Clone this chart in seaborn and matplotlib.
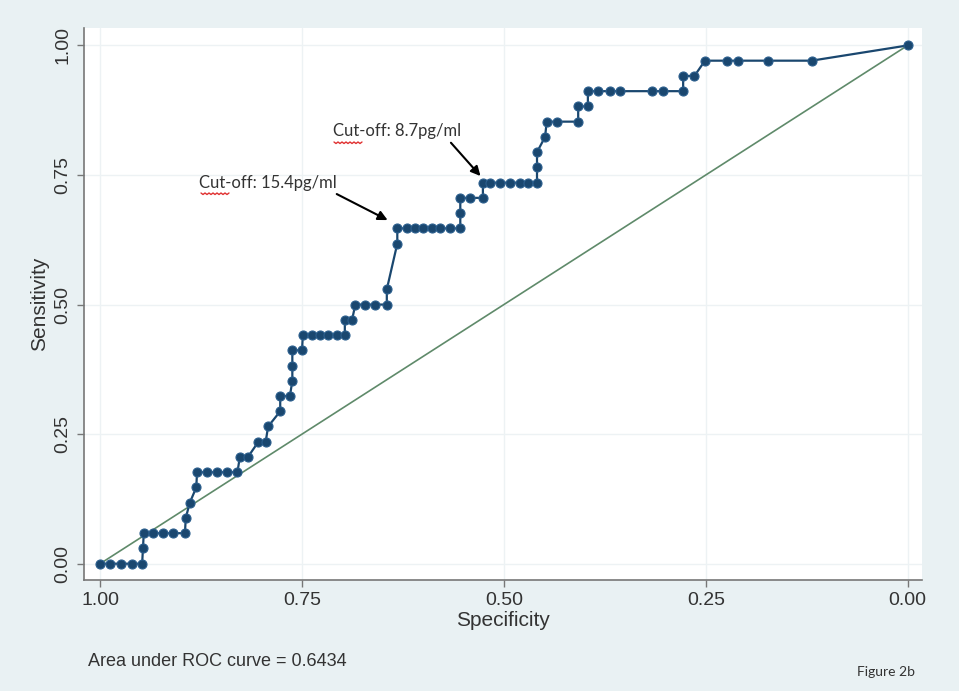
import numpy as np
import pandas as pd
import matplotlib
matplotlib.use("Agg")
import matplotlib.pyplot as plt
import seaborn as sns
from matplotlib.lines import Line2D

# --- ROC points (specificity, sensitivity as k/34) ---
specificity = [1.000, 0.988, 0.974, 0.960, 0.948,
               0.947,
               0.946, 0.934, 0.922, 0.910, 0.895,
               0.894, 0.889, 0.881,
               0.880, 0.868, 0.855, 0.843, 0.830,
               0.827, 0.817,
               0.804, 0.795,
               0.792, 0.777,
               0.777, 0.765,
               0.762, 0.762,
               0.762, 0.750,
               0.749, 0.738, 0.728, 0.718, 0.707, 0.697,
               0.697, 0.688,
               0.684, 0.672, 0.660, 0.645,
               0.645, 0.632,
               0.632, 0.620, 0.610, 0.600, 0.589, 0.579, 0.567, 0.554,
               0.554,
               0.554, 0.542, 0.526,
               0.526, 0.517, 0.505, 0.493, 0.480, 0.470, 0.459,
               0.459, 0.459, 0.449,
               0.447, 0.434, 0.408,
               0.408, 0.396,
               0.396, 0.384, 0.369, 0.356, 0.316, 0.303, 0.278,
               0.278, 0.264,
               0.251, 0.224, 0.210, 0.173, 0.119,
               0.000]
hits = [0, 0, 0, 0, 0,
        1,
        2, 2, 2, 2, 2,
        3, 4, 5,
        6, 6, 6, 6, 6,
        7, 7,
        8, 8,
        9, 10,
        11, 11,
        12, 13,
        14, 14,
        15, 15, 15, 15, 15, 15,
        16, 16,
        17, 17, 17, 17,
        18, 21,
        22, 22, 22, 22, 22, 22, 22, 22,
        23,
        24, 24, 24,
        25, 25, 25, 25, 25, 25, 25,
        26, 27, 28,
        29, 29, 29,
        30, 30,
        31, 31, 31, 31, 31, 31, 31,
        32, 32,
        33, 33, 33, 33, 33,
        34]
n_positive = 34
sensitivity = [h / n_positive for h in hits]

diag_spec = [1.0, 0.0]
diag_sens = [0.0, 1.0]

ticks = [0.00, 0.25, 0.50, 0.75, 1.00]
auc_text = "Area under ROC curve = 0.6434"

df = pd.DataFrame({"spec": specificity, "sens": sensitivity})

# --- style (Stata s2color look) ---
sns.set_style("white")
plt.rcParams['font.family'] = ['Liberation Sans', 'DejaVu Sans']
bg = "#e9f1f3"
navy = "#1a476f"

fig = plt.figure(figsize=(9.59, 6.91), dpi=100, facecolor=bg)
ax = fig.add_axes([0.0876, 0.161, 0.874, 0.798])
ax.set_facecolor("white")

for t in ticks:
    ax.axhline(t, color="#edf2f4", lw=1, zorder=0)
    ax.axvline(t, color="#edf2f4", lw=1, zorder=0)

sns.lineplot(x=diag_spec, y=diag_sens, ax=ax, color="#5f8a6a", lw=1.2, zorder=2)
sns.lineplot(data=df, x="spec", y="sens", sort=False, estimator=None, ax=ax,
             color=navy, lw=1.6, marker="o", markersize=6.5,
             markerfacecolor=navy, markeredgecolor="#2c5f8e", markeredgewidth=0.8,
             zorder=3)

ax.set_xlim(1.02, -0.018)
ax.set_ylim(-0.031, 1.033)
ax.set_xticks(ticks)
ax.set_yticks(ticks)
ax.set_xticklabels([f"{t:.2f}" for t in ticks], fontsize=14, color="#333333")
ax.set_yticklabels([f"{t:.2f}" for t in ticks], fontsize=14, color="#333333",
                   rotation=90, va="center")
ax.tick_params(axis="both", direction="out", length=5, width=1, color="#777777",
               bottom=True, left=True, pad=4)
ax.set_xlabel("Specificity", fontsize=15, color="#333333", labelpad=1)
ax.set_ylabel("Sensitivity", fontsize=15, color="#333333", labelpad=4)

for s in ["top", "right"]:
    ax.spines[s].set_visible(False)
for s in ["left", "bottom"]:
    ax.spines[s].set_color("#777777")
    ax.spines[s].set_linewidth(1.2)

# cut-off annotations
ax.annotate("Cut-off: 15.4pg/ml", xy=(0.644, 0.663), xytext=(0.877, 0.735),
            fontsize=12, family=["Lato", "DejaVu Sans"], color="#333333",
            ha="left", va="center",
            arrowprops=dict(arrowstyle="-|>", color="black", lw=1.5,
                            shrinkA=0, shrinkB=0, mutation_scale=14,
                            relpos=(0.95, 0.0)))
ax.annotate("Cut-off: 8.7pg/ml", xy=(0.529, 0.748), xytext=(0.712, 0.834),
            fontsize=12, family=["Lato", "DejaVu Sans"], color="#333333",
            ha="left", va="center",
            arrowprops=dict(arrowstyle="-|>", color="black", lw=1.5,
                            shrinkA=0, shrinkB=0, mutation_scale=14,
                            relpos=(0.9, 0.0)))

# red spell-check underline below "Cut"
for x0, y0 in [(201, 193), (334, 142)]:
    xs = np.linspace(x0, x0 + 28, 15) / 959
    ys = 1 - (y0 + np.where(np.arange(15) % 2 == 0, 0, 1.5)) / 691
    fig.add_artist(Line2D(xs, ys, color="#e03030", lw=1))

fig.text(88 / 959, 1 - 662 / 691, auc_text, fontsize=13, color="#333333",
         ha="left", va="center")
fig.text(915 / 959, 1 - 672 / 691, "Figure 2b", fontsize=10,
         family=["Lato", "DejaVu Sans"], color="#333333", ha="right", va="center")

fig.savefig("out.png", dpi=100, facecolor=bg)
